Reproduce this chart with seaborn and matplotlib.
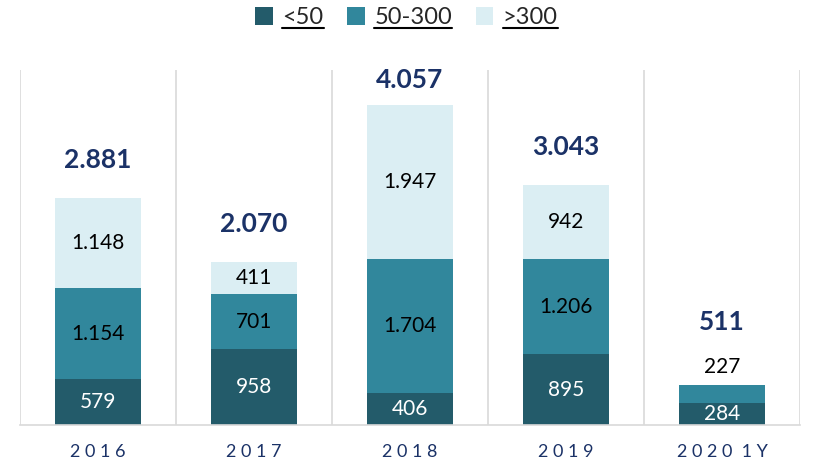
import matplotlib
matplotlib.use("Agg")
import matplotlib.pyplot as plt
from matplotlib.lines import Line2D
import pandas as pd
import seaborn as sns

years = ["2016", "2017", "2018", "2019", "2020 1Y"]
tick_labels = ["2 0 1 6", "2 0 1 7", "2 0 1 8", "2 0 1 9", "2 0 2 0  1 Y"]
small = [579, 958, 406, 895, 284]      # <50
mid = [1154, 701, 1704, 1206, 227]     # 50-300
large = [1148, 411, 1947, 942, 0]      # >300
totals = [2881, 2070, 4057, 3043, 511]

colors = ["#235B6A", "#31879C", "#DBEEF3"]
navy = "#1B3267"

def fmt(v):
    return "{:,}".format(v).replace(",", ".")

df = pd.DataFrame({"year": years, "small": small, "mid": mid, "large": large})
df["c1"] = df["small"]
df["c2"] = df["small"] + df["mid"]
df["c3"] = df["c2"] + df["large"]

sns.set_style("white")
plt.rcParams["font.family"] = ["Lato", "DejaVu Sans"]

fig = plt.figure(figsize=(8.13, 4.68), dpi=100)
ax = fig.add_axes([0.0246, 0.092, 0.9594, 0.758])

# stacked bars: draw cumulative heights from the top down
for col, c, lab in [("c3", colors[2], ">300"), ("c2", colors[1], "50-300"), ("c1", colors[0], "<50")]:
    sns.barplot(data=df, x="year", y=col, color=c, width=0.55, ax=ax, label=lab,
                saturation=1, linewidth=0, legend=False)

ax.set_xlim(-0.5, 4.5)
ax.set_ylim(0, 4500)
ax.set_yticks([])
ax.set_xlabel("")
ax.set_ylabel("")
for s in ["top", "left", "right"]:
    ax.spines[s].set_visible(False)
ax.spines["bottom"].set_color("#D9D9D9")
ax.spines["bottom"].set_linewidth(1.2)
for b in [-0.5, 0.5, 1.5, 2.5, 3.5, 4.5]:
    ax.axvline(b, color="#D9D9D9", lw=1.2, zorder=0)

ax.set_xticks(range(len(years)))
ax.set_xticklabels(tick_labels, color=navy, fontsize=13)
ax.tick_params(axis="x", length=0, pad=14)

for i in range(len(years)):
    if small[i]:
        ax.text(i, small[i] / 2, fmt(small[i]), ha="center", va="center", color="white", fontsize=15)
    if large[i]:
        ax.text(i, small[i] + mid[i] / 2, fmt(mid[i]), ha="center", va="center", color="black", fontsize=15)
        ax.text(i, small[i] + mid[i] + large[i] / 2, fmt(large[i]), ha="center", va="center", color="black", fontsize=15)
        ax.text(i, min(totals[i] + 480, 4380), fmt(totals[i]), ha="center", va="center",
                color=navy, fontsize=19, fontweight="bold")
    else:
        ax.text(i, totals[i] + 230, fmt(mid[i]), ha="center", va="center", color="black", fontsize=15)
        ax.text(i, totals[i] + 790, fmt(totals[i]), ha="center", va="center", color=navy, fontsize=19, fontweight="bold")

handles, labels = ax.get_legend_handles_labels()
order = [labels.index(l) for l in ["<50", "50-300", ">300"]]
leg = fig.legend([handles[k] for k in order], ["<50", "50-300", ">300"],
                 loc="upper center", bbox_to_anchor=(0.5, 1.03), ncol=3, frameon=False,
                 fontsize=17, handlelength=0.75, handleheight=0.75, handletextpad=0.4, columnspacing=1.0)

# underline legend labels
fig.canvas.draw()
inv = fig.transFigure.inverted()
for t in leg.get_texts():
    bb = t.get_window_extent()
    (x0, y0), (x1, _) = inv.transform([(bb.x0, bb.y0), (bb.x1, bb.y1)])
    fig.add_artist(Line2D([x0, x1], [y0, y0], transform=fig.transFigure, color="black", lw=1.5))

fig.savefig("out.png", dpi=100)
